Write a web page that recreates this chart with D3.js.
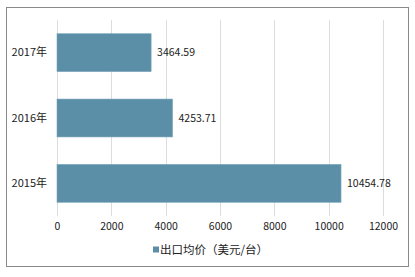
<!DOCTYPE html>
<html>
<head>
<meta charset="utf-8">
<script src="https://cdn.jsdelivr.net/npm/d3@7"></script>
<style>
  body { margin: 0; background: #fff; }
  svg text { font-family: "Noto Sans CJK SC", "DejaVu Sans", sans-serif; fill: #222; }
</style>
</head>
<body>
<div id="chart"></div>
<script>
var years = ["2017年", "2016年", "2015年"];
var prices = [3464.59, 4253.71, 10454.78];
var xTicks = [0, 2000, 4000, 6000, 8000, 10000, 12000];
var legendLabel = "出口均价（美元/台）";

var W = 415, H = 277;
var svg = d3.select("#chart").append("svg")
  .attr("width", W)
  .attr("height", H);

// outer frame
svg.append("rect")
  .attr("x", 6.5).attr("y", 7.5)
  .attr("width", 402).attr("height", 259)
  .attr("fill", "#fff")
  .attr("stroke", "#8a8a8a");

var x = d3.scaleLinear().domain([0, 12000]).range([57, 383]);
var y = d3.scaleBand().domain(years).range([20, 216]).paddingInner(0.42).paddingOuter(0.21);

// grid
svg.append("g").selectAll("line")
  .data(xTicks)
  .join("line")
  .attr("x1", function(d) { return Math.round(x(d)) + 0.5; })
  .attr("x2", function(d) { return Math.round(x(d)) + 0.5; })
  .attr("y1", 20)
  .attr("y2", 216)
  .attr("stroke", "#dcdcdc");

// x axis labels
var xAxis = d3.axisBottom(x).tickValues(xTicks).tickFormat(d3.format("d")).tickSize(0).tickPadding(0);
var gx = svg.append("g").attr("transform", "translate(0,223)").call(xAxis);
gx.select(".domain").remove();
gx.selectAll("text").attr("font-size", 10.5).attr("dy", "0.71em");

// y axis labels
var yAxis = d3.axisLeft(y).tickSize(0).tickPadding(10);
var gy = svg.append("g").attr("transform", "translate(57,0)").call(yAxis);
gy.select(".domain").remove();
gy.selectAll("text").attr("font-size", 11);

// bars
svg.append("g").selectAll("rect")
  .data(prices)
  .join("rect")
  .attr("x", x(0))
  .attr("y", function(d, i) { return y(years[i]); })
  .attr("width", function(d) { return x(d) - x(0); })
  .attr("height", y.bandwidth())
  .attr("fill", "#5b8fa7")
  .attr("stroke", "#7aa6ba")
  .attr("stroke-width", 0.6);

// value labels
svg.append("g").selectAll("text")
  .data(prices)
  .join("text")
  .attr("x", function(d) { return x(d) + 6; })
  .attr("y", function(d, i) { return y(years[i]) + y.bandwidth() / 2; })
  .attr("dy", "0.35em")
  .attr("font-size", 10.5)
  .text(function(d) { return d.toFixed(2); });

// legend
var lg = svg.append("g").attr("transform", "translate(153,250)");
lg.append("rect")
  .attr("x", 0).attr("y", -3.5)
  .attr("width", 6).attr("height", 6)
  .attr("fill", "#5b8fa7");
lg.append("text")
  .attr("x", 7)
  .attr("dy", "0.35em")
  .attr("font-size", 11.5)
  .text(legendLabel);
</script>
</body>
</html>
